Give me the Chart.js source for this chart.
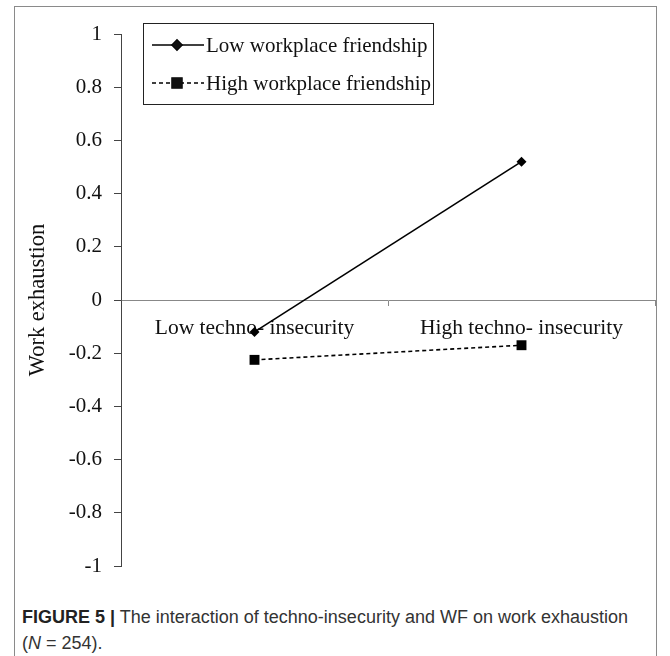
<!DOCTYPE html>
<html>
<head>
<meta charset="utf-8">
<script src="https://cdn.jsdelivr.net/npm/chart.js@4.4.1/dist/chart.umd.min.js"></script>
<style>
  body { margin: 0; background: #fff; }
  #frame { position: absolute; left: 14px; top: 6px; width: 641px; height: 680px; border: 1px solid #8a8a8a; }
  #wrap { position: absolute; left: 0; top: 0; width: 670px; height: 600px; }
  #caption { position: absolute; left: 22px; top: 604px; width: 640px; font-family: "Liberation Sans Narrow", "Liberation Sans", Arial, sans-serif; font-size: 18px; line-height: 26px; color: #333; }
  #caption b { color: #222; }
</style>
</head>
<body>
<div id="frame"></div>
<div id="wrap"><canvas id="chart"></canvas></div>
<div id="caption"><b>FIGURE 5 |</b> The interaction of techno-insecurity and WF on work exhaustion<br>(<i>N</i> = 254).</div>
<script>
// categories and series
const categories = ['Low techno- insecurity', 'High techno- insecurity'];
const lowFriendship = [-0.12, 0.52];
const highFriendship = [-0.225, -0.17];
const seriesNames = ['Low workplace friendship', 'High workplace friendship'];
const yTicks = [-1, -0.8, -0.6, -0.4, -0.2, 0, 0.2, 0.4, 0.6, 0.8, 1];

const serif = "'Liberation Serif', 'Times New Roman', serif";

// legend box like the excel one, drawn on top of the chart
const boxLegend = {
    id: 'boxLegend',
    afterDraw(chart) {
        const ctx = chart.ctx;
        const x0 = 143, y0 = 23, w = 290, h = 81;
        ctx.save();
        ctx.fillStyle = '#fff';
        ctx.fillRect(x0, y0, w, h);
        ctx.strokeStyle = '#222';
        ctx.lineWidth = 1;
        ctx.strokeRect(x0 + 0.5, y0 + 0.5, w, h);
        chart.data.datasets.forEach((ds, i) => {
            const y = y0 + 22 + i * 38;
            ctx.beginPath();
            ctx.setLineDash(ds.borderDash || []);
            ctx.strokeStyle = ds.borderColor;
            ctx.lineWidth = ds.borderWidth;
            ctx.moveTo(x0 + 9, y);
            ctx.lineTo(x0 + 61, y);
            ctx.stroke();
            ctx.setLineDash([]);
            Chart.helpers.drawPoint(ctx, {pointStyle: ds.pointStyle, radius: ds.pointRadius, borderWidth: 1}, x0 + 34, y);
            ctx.fillStyle = '#111';
            ctx.fill();
            ctx.font = '21px ' + serif;
            ctx.textBaseline = 'middle';
            ctx.textAlign = 'left';
            ctx.fillText(ds.label, x0 + 63, y + 1);
        });
        ctx.restore();
    }
};

new Chart(document.getElementById('chart'), {
    type: 'line',
    data: {
        labels: categories,
        datasets: [
            {
                label: seriesNames[0],
                data: lowFriendship,
                borderColor: '#000',
                backgroundColor: '#000',
                borderWidth: 1.6,
                pointStyle: 'rectRot',
                pointRadius: 5,
                pointBorderWidth: 0,
                fill: false,
                tension: 0
            },
            {
                label: seriesNames[1],
                data: highFriendship,
                borderColor: '#000',
                backgroundColor: '#000',
                borderWidth: 1.6,
                borderDash: [4, 3],
                pointStyle: 'rect',
                pointRadius: 7,
                pointBorderWidth: 0,
                fill: false,
                tension: 0
            }
        ]
    },
    options: {
        responsive: true,
        maintainAspectRatio: false,
        animation: false,
        layout: {padding: {top: 34, right: 15, bottom: 34, left: 0}},
        plugins: {
            legend: {display: false},
            tooltip: {enabled: false}
        },
        scales: {
            x: {
                position: {y: 0},
                offset: true,
                grid: {offset: true, drawOnChartArea: false, tickLength: 5, color: '#888'},
                border: {color: '#888', width: 1},
                ticks: {
                    color: '#111',
                    padding: 10,
                    maxRotation: 0,
                    autoSkip: false,
                    font: {family: serif, size: 21.5}
                }
            },
            y: {
                min: -1,
                max: 1,
                afterFit(scale) { scale.width = 121; },
                afterBuildTicks(scale) { scale.ticks = yTicks.map(v => ({value: v})); },
                grid: {drawOnChartArea: false, tickLength: 7, color: '#444'},
                border: {color: '#444', width: 1},
                title: {
                    display: true,
                    text: 'Work exhaustion',
                    color: '#111',
                    font: {family: serif, size: 22.5},
                    padding: {top: 25, bottom: 0}
                },
                ticks: {
                    color: '#111',
                    padding: 12,
                    font: {family: serif, size: 21},
                    callback: v => String(Math.round(v * 10) / 10)
                }
            }
        }
    },
    plugins: [boxLegend]
});
</script>
</body>
</html>
